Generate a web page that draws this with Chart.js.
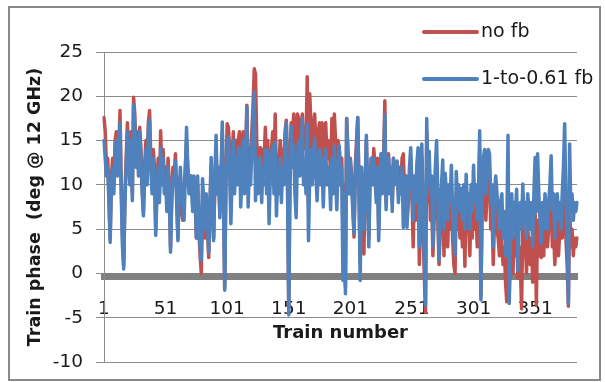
<!DOCTYPE html>
<html>
<head>
<meta charset="utf-8">
<script src="https://cdn.jsdelivr.net/npm/chart.js@4.4.1/dist/chart.umd.min.js"></script>
<style>
  body { margin: 0; background: #fff; }
  #wrap { position: relative; width: 605px; height: 382px; }
  #frame { position: absolute; left: 8px; top: 6px; width: 593px; height: 375px;
           border: 2px solid #898989; box-sizing: border-box; pointer-events: none; }
</style>
</head>
<body>
<div id="wrap">
  <canvas id="phaseChart" width="605" height="382"></canvas>
  <div id="frame"></div>
</div>
<script>
// Train phase per train
const noFb = [
    17.6, 16, 12, 13, 9, 4, 11, 13, 10, 15,
    16, 12, 14, 18.4, 10, 4, 1, 9, 13, 17,
    14, 11, 16, 9, 19.9, 18, 13, 16, 12, 16.5,
    14, 10, 7, 12, 15, 11, 17, 18.4, 13, 10,
    14, 12, 5, 10, 13, 9, 16.1, 11, 14, 10,
    12, 8, 13, 10, 3, 9, 12, 11, 13.5, 9,
    4, 10, 11, 7, 6, 9, 12, 15, 12, 10,
    11, 11, 8, 10, 8, 4, 10, 5, 2, 0,
    9, 7, 4, 8, 5, 1.8, 7, 12, 8, 4,
    10, 14, 9, 11, 7, 11, 16, 9, -1.5, 11,
    16.9, 16.5, 14, 7, 13, 16, 11, 15, 12, 15,
    16, 10, 13, 16, 12, 14, 19, 10, 14, 13,
    16, 19, 23.1, 22.5, 15, 12, 14, 14.2, 11, 14,
    13, 16.5, 12, 15, 9, 13, 14, 16, 12, 18,
    10, 11.4, 12, 15, 11, 14, 13, 16, 17.3, 12,
    -4, 13, 17, 15, 18, 14, 12, 18, 17.5, 15,
    16, 18, 14, 16, 15, 22.2, 8, 20.3, 17, 14,
    16, 18, 15, 12, 16, 17, 14, 17, 12, 16,
    17, 13, 15, 14, 11, 17.5, 13, 18, 15, 11,
    15, 14, 12, 13, 4, 10, -1.5, 17.5, 14, 11,
    13, 11, 8, 4.1, 12, 15, 17.6, 10, 1, 12,
    9, 2.2, 10, 15, 9, 4, 11, 13, 11, 14.1,
    12, 9, 13, 5, 11, 13.5, 10, 13, 19.5, 8,
    12, 13.5, 10, 12, 8, 13, 11, 12, 12, 9,
    12, 10, 13, 13.5, 9, 11, 6, 8, 11, 13,
    9, 3, 10, 6, 11, 13, 1, 7, 13, 5,
    0, -4.4, 16, 8, 12, 6, 9, 2, 6, 10,
    13, 6, 1, 5, 8, 10, 2, 9, 6, 3,
    7, 5, 10, 4, 1, 0, 9, 5, 7, 4,
    6.8, 3, 7, 0.8, 9, 5, 6, 2, 8, 4,
    10, 5, 7, 3, 6, 14, -2.5, 7, 10, 11,
    6, 9, 11, 12, 5, 7, 1, 6, 8, 5,
    4, 2, 5, 3, 1, 3, -1, -3.2, 12, -2.5,
    3, 5, 0, 4, 2, 6, -0.5, 3, 1, -4,
    6, 2, 4, 0, 5, 3, 1, 4, -1, 5,
    7, -3.6, 6, 4, 2, 1.8, 5, 2, 6, 4,
    3, 5, 6, 9, 3, 5, 1, 4, 6, 2,
    5, 6, 4, 8, 10, 4, 1, -3.7, 8, 3,
    5, 2, 4, 3, 4
];
const fb061 = [
    15, 13, 11, 12, 8, 3.5, 10, 12, 9, 14,
    15, 11, 13, 17, 9, 3, 0.5, 8, 12, 16,
    13, 10, 15, 8.2, 19, 17, 12, 15, 11, 16,
    13, 9, 6.5, 11, 14, 10, 16, 17.3, 12, 9,
    13, 11, 4.3, 9, 12, 8, 14.2, 10, 13, 9,
    11, 7, 12, 9, 2.4, 8, 11, 10, 12.7, 8,
    3.7, 9, 12, 8, 10, 6, 11, 16.5, 12, 9,
    11, 10, 7, 11, 9, 4, 11, 6, 3, 1.5,
    10.7, 8, 5, 9, 6, 2.3, 8, 13.1, 7, 3.7,
    11, 15.6, 9, 12, 6.3, 10, 17.1, 8, -1.9, 10,
    14, 15.5, 12, 5.6, 11, 15, 9, 13, 10, 14,
    14.2, 7.5, 11, 15, 9, 12, 18.8, 7.5, 12, 10,
    14, 16, 20.5, 8.2, 13, 9, 11, 13.1, 8, 12,
    10, 14, 9, 14, 5.6, 11, 13, 14.4, 9, 14.8,
    6.5, 11, 9, 13, 8, 12, 10, 15, 17, 9,
    -4.7, 10, 16.6, 12, 14.5, 9, 6.3, 13, 15, 11,
    13, 17.5, 10, 12, 9, 16.9, 3.7, 11, 14, 10,
    13, 15.3, 11, 8.2, 12, 14, 10, 13, 7.5, 12,
    14, 10, 12, 11, 7.2, 13, 9, 14.4, 11, 7.2,
    12, 14.4, 10, 12, -0.8, 9, -2.3, 17.5, 13, 9,
    12.8, 10, 7, 4.5, 11, 14, 17.6, 9, -0.8, 12,
    8, 5, 10, 15.6, 9, 3, 11, 13, 10, 13,
    11, 8, 12, 3.7, 10, 13.5, 9, 12, 17.9, 7.2,
    11, 13.1, 9, 12, 7, 13, 10, 11, 12.7, 8,
    11, 9, 12, 5.2, 10, 11, 5.2, 9, 12, 14.2,
    10, 6, 11, 8, 12.4, 14.2, 3, 9, 14.6, 8,
    2, -3.6, 17.5, 10, 13.8, 9, 11, 3, 8, 12,
    15, 9, 1.5, 8, 10, 12.8, 5, 11.3, 9, 6,
    10, 8, 12.2, 7, 4, 2, 11.5, 8, 10, 7,
    9.6, 6, 10, 5, 11.2, 8, 9, 5, 10, 7,
    12.2, 8, 10, 6, 9, 16.1, -3.0, 10, 13, 14,
    9, 12, 14, 13.5, 8, 10, 3, 9, 11, 9.1,
    7, 5, 8, 9, 4, 7, 2, 5, 15.6, -3.4,
    6, 9, 4, 8, 7, 9.5, 0.3, 6, 8, 5,
    10.1, 6, 8, 4, 9, 7, 5, 8, 3, 9,
    13.1, 7, 13.5, 9, 6, 3.4, 8, 5, 9, 7,
    5, 8, 10, 13.3, 7, 9, 4, 8, 9, 6,
    8, 5, 9, 12, 16.9, 8, 5, -3.4, 14.6, 7,
    9, 6, 8, 7, 8
];
// Train numbers 1..N as category labels
const trainNumbers = noFb.map((v, i) => String(i + 1));
const seriesNames = ['no fb', '1-to-0.61 fb'];
const yTicks = { min: -10, max: 25, step: 5 };

const font = 'DejaVu Sans';
const gridColor = '#8c8c8c';

// Legend drawn in the top right, stacked like the original
const stackedLegend = {
    id: 'stackedLegend',
    afterDraw(chart) {
        const c = chart.ctx;
        c.save();
        c.font = '19px "' + font + '"';
        c.textBaseline = 'middle';
        c.fillStyle = '#1a1a1a';
        chart.data.datasets.forEach((ds, i) => {
            const y = 32 + i * 47;
            c.strokeStyle = ds.borderColor;
            c.lineWidth = 4;
            c.lineCap = 'round';
            c.beginPath();
            c.moveTo(424, y);
            c.lineTo(477, y);
            c.stroke();
            c.fillText(ds.label, 481, y);
        });
        c.restore();
    }
};

const ctx = document.getElementById('phaseChart').getContext('2d');
new Chart(ctx, {
    type: 'line',
    data: {
        labels: trainNumbers,
        datasets: [
            { label: seriesNames[0], data: noFb, borderColor: '#C0504D', order: 2 },
            { label: seriesNames[1], data: fb061, borderColor: '#4F81BD', order: 1 }
        ]
    },
    options: {
        responsive: false,
        animation: false,
        layout: { padding: { left: 0, top: 52, right: 28, bottom: 20 } },
        elements: {
            line: { borderWidth: 3.5, tension: 0, borderJoinStyle: 'round', borderCapStyle: 'round' },
            point: { radius: 0 }
        },
        plugins: { legend: { display: false }, tooltip: { enabled: false } },
        scales: {
            x: {
                type: 'category',
                position: { y: -0.4 },
                grid: { display: false },
                border: { display: true, color: '#808080', width: 7 },
                afterBuildTicks: (s) => { s.ticks = s.ticks.filter(t => t.value % 50 === 0); },
                ticks: { autoSkip: false, maxRotation: 0, padding: 13, color: '#1a1a1a',
                         font: { family: font, size: 18.5 } },
                title: { display: true, text: 'Train number', color: '#1a1a1a', padding: { top: -11, bottom: 0 },
                         font: { family: font, size: 18, weight: 'bold' } }
            },
            y: {
                min: yTicks.min,
                max: yTicks.max,
                afterFit: (s) => { s.width = 104; s.paddingTop = 10; s.paddingBottom = 10; },
                ticks: { stepSize: yTicks.step, padding: 13, color: '#1a1a1a',
                         font: { family: font, size: 18.5 } },
                grid: { color: gridColor, tickColor: gridColor, lineWidth: 1, tickLength: 8 },
                border: { display: true, color: gridColor, width: 1 },
                title: { display: true, text: 'Train phase  (deg @ 12 GHz)', color: '#1a1a1a',
                         padding: { top: 25, bottom: 0 },
                         font: { family: font, size: 17.5, weight: 'bold' } }
            }
        }
    },
    plugins: [stackedLegend]
});
</script>
</body>
</html>
